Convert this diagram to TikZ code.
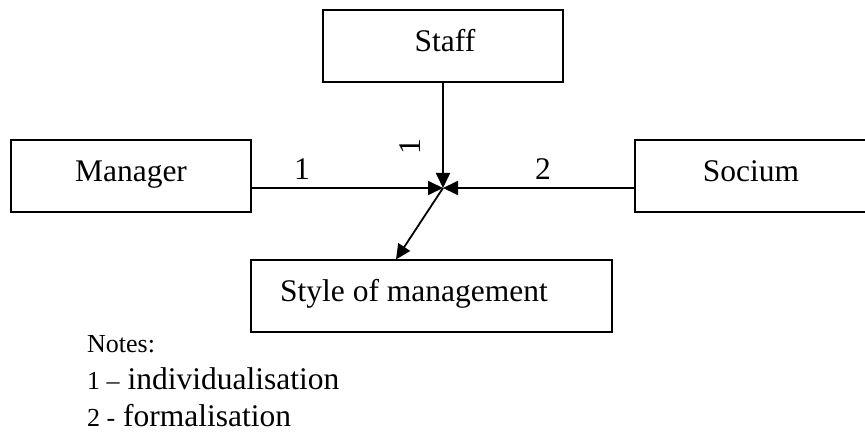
\documentclass[tikz,border=0pt]{standalone}
\usepackage{fontspec}
\setmainfont{Liberation Serif}
\usetikzlibrary{arrows.meta}
\begin{document}
\begin{tikzpicture}[x=1pt,y=-1pt,
  box/.style={draw, line width=1.8pt, inner sep=0pt},
  big/.style={font=\fontsize{31.5}{38}\selectfont, inner sep=0pt},
  small/.style={font=\fontsize{26}{31}\selectfont, inner sep=0pt},
  conn/.style={line width=1.8pt, -{Triangle[length=15pt,width=14pt]}}]
\useasboundingbox (0,0) rectangle (865,435);
\clip (0,0) rectangle (865,435);
% boxes
\node[box, minimum width=240pt, minimum height=72pt] (staff) at (443,46) {};
\node[box, minimum width=240pt, minimum height=72pt] (manager) at (131,176) {};
\node[box, minimum width=240pt, minimum height=72pt] (socium) at (755,176) {};
\node[box, minimum width=361pt, minimum height=72pt] (style) at (431.5,296) {};
% texts
\node[big, anchor=base] (tstaff) at (445,52) {Staff};
\node[big, anchor=base] (tmanager) at (131,182) {Manager};
\node[big, anchor=base] (tsocium) at (751,182) {Socium};
\node[big, anchor=base west] (tstyle) at (280,302) {Style of management};
% connectors
\coordinate (c) at (443,188);
\coordinate (d) at (396,259.5);
\draw[conn] (manager.east |- c) -- (c);
\draw[conn] (socium.west |- c) -- (c);
\draw[conn] (staff.south) -- (c);
\draw[conn] (c) -- (d);
% labels
\node[big, anchor=base] (l1) at (302,180) {1};
\node[big, anchor=base] (l2) at (543,180) {2};
\node[big, rotate=90] (l3) at (410,147) {1};
% notes
\node[small, anchor=base west] (notes) at (87,353) {Notes:};
\node[big, anchor=base west] (n1) at (87,390) {{\fontsize{26}{31}\selectfont 1 –} individualisation};
\node[big, anchor=base west] (n2) at (87,427) {{\fontsize{26}{31}\selectfont 2 -} formalisation};
\end{tikzpicture}
\end{document}
